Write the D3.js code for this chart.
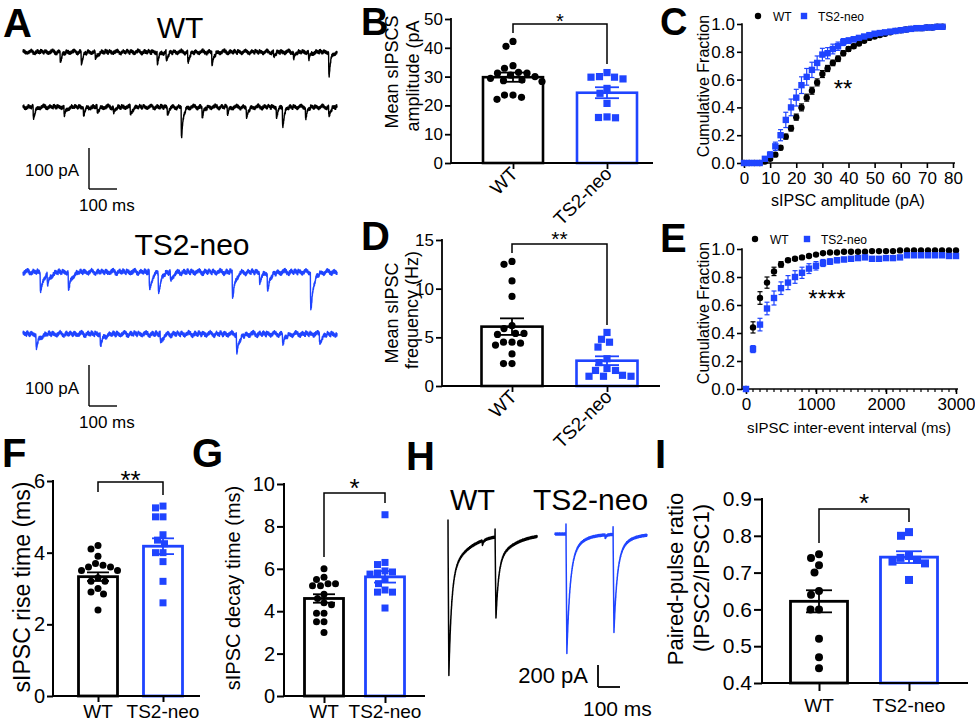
<!DOCTYPE html>
<html><head><meta charset="utf-8"><title>sIPSC figure</title>
<script src="https://cdn.jsdelivr.net/npm/d3@7/dist/d3.min.js"></script>
<style>html,body{margin:0;padding:0;background:#fff;}svg{display:block;}text{font-family:'Liberation Sans',Arial,Helvetica,sans-serif;}</style>
</head><body>
<svg id="fig" width="975" height="722" viewBox="0 0 975 722"></svg>
<script>
// ================= DATA =================
const groups = ["WT", "TS2-neo"];

// A: spontaneous traces, events as [time (ms), amplitude (pA)]
const aWT1 = [[132,24],[207,29],[257,20],[478,29],[510,22],[587,27],[673,34],[893,12],[964,15],[1018,20],[1090,58]];
const aWT2 = [[36,29],[146,24],[215,20],[264,15],[322,15],[382,20],[514,17],[564,73],[638,24],[728,15],[796,29],[903,24],[925,44],[1007,27],[1090,24]];
const aTS1 = [[61,49],[86,29],[161,44],[450,41],[482,44],[525,20],[746,59],[843,24],[871,41],[1025,90]];
const aTS2 = [[46,34],[275,27],[489,20],[761,44],[925,22],[1057,20]];
const noiseA = [0.8,-1.2,2.1,-0.5,1.6,-2.0,0.3,1.9,-1.4,0.6,-2.2,1.1,-0.2,2.3,-1.7,0.4,1.3,-0.9,-2.1,1.7,0.1,-1.3,2.0,-0.6,0.9,-1.8,1.5,-0.3,2.2,-1.1,0.5];
const noiseB = [1.5,0.5,-1.0,-2.0,-0.5,1.0,2.5,1.0,-1.5,-2.5,-0.5,1.5,0.0,-1.0,2.0,0.5,-1.5];

// B: mean sIPSC amplitude (pA)
const bWT  = [42.2,40.5,33.8,32.9,31.2,31.5,30.5,30.0,31.2,28.3,28.8,28.6,29.4,22.1,23.6,22.8,23.6];
const bTS2 = [30.0,29.8,31.4,29.2,29.8,24.2,25.9,20.7,15.7,16.0,15.8];
const bMean = [29.8, 24.4];
const bSem  = [1.6, 1.9];

// C: cumulative amplitude distribution
const cAmp = [0,2,4,6,8,10,12,14,16,18,20,22,24,26,28,30,32,34,36,38,40,42,44,46,48,50,52,54,56,58,60,62,64,66,68,70,72,74,76];
const cWT  = [0,0,0,0,0.01,0.03,0.06,0.11,0.19,0.25,0.33,0.40,0.47,0.52,0.58,0.64,0.68,0.72,0.75,0.79,0.82,0.84,0.86,0.88,0.90,0.91,0.92,0.93,0.94,0.95,0.955,0.96,0.965,0.97,0.97,0.975,0.975,0.98,0.98];
const cWTsem = [0,0,0,0,0.005,0.01,0.012,0.015,0.018,0.02,0.022,0.025,0.025,0.025,0.025,0.025,0.022,0.02,0.02,0.018,0.016,0.015,0.013,0.012,0.01,0.01,0.01,0.008,0.008,0.007,0.007,0.006,0.006,0.005,0.005,0.005,0.005,0.004,0.004];
const cTS2 = [0,0,0,0,0.03,0.06,0.12,0.20,0.31,0.40,0.47,0.56,0.62,0.67,0.72,0.78,0.79,0.82,0.84,0.87,0.88,0.89,0.90,0.91,0.92,0.93,0.935,0.94,0.945,0.95,0.955,0.96,0.965,0.97,0.97,0.975,0.975,0.98,0.98];
const cTS2sem = [0,0,0,0,0.01,0.02,0.03,0.04,0.055,0.06,0.06,0.06,0.06,0.055,0.05,0.045,0.04,0.035,0.03,0.025,0.02,0.018,0.016,0.014,0.012,0.011,0.01,0.009,0.008,0.008,0.007,0.007,0.006,0.006,0.005,0.005,0.005,0.004,0.004];

// D: mean sIPSC frequency (Hz)
const dWT  = [12.5,12.8,10.8,9.2,5.9,6.2,5.4,5.4,5.3,4.5,4.5,4.4,4.2,3.3,2.3,2.3];
const dTS2 = [5.5,4.8,4.5,4.0,2.8,2.4,1.6,1.6,1.8,1.0,1.0,1.0,1.1];
const dMean = [6.1, 2.6];
const dSem  = [0.85, 0.45];

// E: cumulative inter-event interval distribution
const eInt = [0,100,200,300,400,500,600,700,800,900,1000,1100,1200,1300,1400,1500,1600,1700,1800,1900,2000,2100,2200,2300,2400,2500,2600,2700,2800,2900,3000];
const eWT  = [0,0.44,0.65,0.76,0.84,0.89,0.92,0.93,0.94,0.95,0.96,0.97,0.975,0.975,0.98,0.98,0.98,0.98,0.985,0.985,0.985,0.985,0.99,0.99,0.99,0.99,0.99,0.99,0.99,0.99,0.99];
const eWTsem = [0,0.04,0.045,0.04,0.03,0.02,0.012,0.01,0.01,0.008,0.008,0.007,0.006,0.006,0.005,0.005,0.005,0.005,0.004,0.004,0.004,0.004,0.004,0.004,0.004,0.004,0.004,0.004,0.004,0.004,0.004];
const eTS2 = [0,0.285,0.46,0.575,0.65,0.72,0.76,0.80,0.83,0.86,0.88,0.90,0.91,0.92,0.925,0.93,0.935,0.94,0.93,0.93,0.935,0.935,0.94,0.955,0.955,0.955,0.955,0.955,0.955,0.95,0.95];
const eTS2sem = [0,0.025,0.045,0.045,0.05,0.045,0.05,0.045,0.04,0.035,0.03,0.025,0.02,0.018,0.015,0.013,0.012,0.01,0.01,0.01,0.009,0.009,0.008,0.008,0.008,0.007,0.007,0.007,0.007,0.007,0.007];

// F: rise time (ms)
const fWT  = [4.2,4.1,3.7,3.9,3.6,3.65,3.6,3.5,3.5,3.3,3.2,3.2,3.0,2.9,2.85,2.4];
const fTS2 = [5.25,5.3,5.0,5.0,4.5,4.35,4.25,4.0,4.0,3.75,3.2,2.6];
const fMean = [3.33, 4.18];
const fSem  = [0.12, 0.22];

// G: decay time (ms)
const gWT  = [6.0,5.6,5.5,5.3,5.3,5.2,5.2,4.8,4.6,4.4,4.3,3.9,3.9,3.5,3.5,3.0];
const gTS2 = [8.55,6.3,6.2,5.75,5.8,5.85,5.9,5.3,5.5,4.9,4.9,5.0,4.15];
const gMean = [4.6, 5.62];
const gSem  = [0.2, 0.27];

// H: evoked paired-pulse traces (ms, pA)
const hWT  = {stims:[0,214],  amps:[1290,745], artifacts:[118,80], minis:[[155,36]]};
const hTS2 = {stims:[50,264], amps:[1082,890], artifacts:[82,64],  minis:[[227,27]]};
const hNoise = [4,-6,9,-3,7,-9,2,8,-5,3,-8,6,-1,10,-7,1,5,-4,-9,7,0,-5,8];

// I: paired-pulse ratio
const iWT  = [0.75,0.74,0.72,0.70,0.65,0.64,0.60,0.60,0.52,0.47,0.44];
const iTS2 = [0.81,0.80,0.745,0.74,0.735,0.73,0.725,0.68];
const iMean = [0.622, 0.742];
const iSem  = [0.03, 0.016];

// ================= DRAWING =================
const svg = d3.select("#fig");
const BLUE = "#1f44ff";
const COL = ["#000000", BLUE];

function T(x, y, s, size, o = {}) {
  const t = svg.append("text").attr("x", x).attr("y", y).text(s)
    .attr("font-size", size).attr("text-anchor", o.anchor || "start")
    .attr("font-weight", o.bold ? "bold" : "normal").attr("fill", o.fill || "#000");
  if (o.rotate != null) t.attr("transform", `rotate(${o.rotate},${x},${y})`);
  return t;
}
function L(x1, y1, x2, y2, col, w) {
  return svg.append("line").attr("x1", x1).attr("y1", y1).attr("x2", x2).attr("y2", y2)
    .attr("stroke", col || "#000").attr("stroke-width", w || 1.5);
}

// panel letters
[["A",3,37,40],["B",361,35,38],["C",660,35,38],["D",361,250,40],["E",660,252,40],["F",2,467,40],["G",192,467,40],["H",406,470,40],["I",655,468,40]]
  .forEach(([s,x,y,f]) => T(x, y, s, f, {bold: true}));

// ---------- A ----------
function evShape(dt, tau) { return (1 - Math.exp(-dt / 0.8)) * Math.exp(-dt / tau); }
function evNorm(tau) { let m = 0; for (let d = 0; d < 40; d += 0.05) m = Math.max(m, evShape(d, tau)); return m; }
function spontTrace(events, tau, phase, dur, gain) {
  const n = evNorm(tau), pts = [];
  for (let i = 0; i <= dur * 2; i++) {
    const t = i / 2;
    let v = gain * (noiseA[(i + phase) % noiseA.length] + noiseB[(Math.floor(i / 9) + phase) % noiseB.length]);
    events.forEach(([t0, a]) => { const dt = t - t0; if (dt >= 0) v -= a * evShape(dt, tau) / n; });
    pts.push([t, v]);
  }
  return pts;
}
(function () {
  const x = d3.scaleLinear().domain([0, 1120]).range([23, 337]);
  const specs = [[aWT1, 52, COL[0], 6, 0, 1.5], [aWT2, 107, COL[0], 6, 7, 1.5], [aTS1, 272, COL[1], 10, 3, 1.8], [aTS2, 334, COL[1], 10, 11, 1.8]];
  specs.forEach(([ev, base, col, tau, ph, gain]) => {
    const y = d3.scaleLinear().domain([0, -100]).range([base, base + 41]);
    svg.append("path").datum(spontTrace(ev, tau, ph, 1120, gain))
      .attr("d", d3.line().x(d => x(d[0])).y(d => y(d[1])))
      .attr("fill", "none").attr("stroke", col).attr("stroke-width", 1.4).attr("stroke-linejoin", "round");
  });
  // scale bars: 100 pA, 100 ms
  const sx = d3.scaleLinear().domain([0, 100]).range([0, x(100) - x(0)]);
  const sy = d3.scaleLinear().domain([0, 100]).range([0, 41]);
  [[189, 176, 211], [406, 394, 428]].forEach(([yb, ty1, ty2]) => {
    L(89, yb - sy(100), 89, yb, "#000", 1.4);
    L(89, yb, 89 + sx(100), yb, "#000", 1.4);
    T(79, ty1, "100 pA", 17, {anchor: "end"});
    T(79, ty2, "100 ms", 17);
  });
  T(180, 38, "WT", 30, {anchor: "middle"});
  T(192, 255, "TS2-neo", 30, {anchor: "middle"});
})();

// ---------- bar panels ----------
function swarm(pys, minD) {
  const idx = pys.map((p, i) => i).sort((a, b) => pys[a] - pys[b]);
  const placed = [], out = new Array(pys.length);
  idx.forEach(i => {
    const py = pys[i];
    for (let k = 0; k < 400; k++) {
      const dx = (k % 2 === 0 ? 1 : -1) * Math.ceil(k / 2) * 0.5;
      if (placed.every(([qx, qy]) => (qx - dx) ** 2 + (qy - py) ** 2 >= minD * minD)) {
        placed.push([dx, py]); out[i] = dx; break;
      }
    }
  });
  return out;
}
function barPanel(o) {
  const g = svg.append("g");
  const y = d3.scaleLinear().domain(o.yDomain).range([o.yBottom, o.yTop]);
  const x = d3.scalePoint().domain(groups).range([o.c0, o.c1]);
  // bars
  g.selectAll("rect.bar").data(groups).join("rect").attr("class", "bar")
    .attr("x", d => x(d) - o.bw / 2).attr("y", (d, i) => y(o.means[i]))
    .attr("width", o.bw).attr("height", (d, i) => o.yBottom - y(o.means[i]))
    .attr("fill", "#fff").attr("stroke", (d, i) => COL[i]).attr("stroke-width", o.sw);
  // points
  o.pts.forEach((vals, i) => {
    const pys = vals.map(v => y(v));
    const dxs = swarm(pys, o.minD);
    pys.forEach((py, j) => {
      const cx = x(groups[i]) + dxs[j];
      if (i === 0) g.append("circle").attr("cx", cx).attr("cy", py).attr("r", o.r).attr("fill", "#000");
      else g.append("rect").attr("x", cx - o.r).attr("y", py - o.r).attr("width", 2 * o.r).attr("height", 2 * o.r).attr("fill", BLUE);
    });
  });
  // error bars
  groups.forEach((d, i) => {
    const cx = x(d), y1 = y(o.means[i] - o.sems[i]), y2 = y(o.means[i] + o.sems[i]);
    [[cx, y1, cx, y2], [cx - o.cap / 2, y1, cx + o.cap / 2, y1], [cx - o.cap / 2, y2, cx + o.cap / 2, y2]]
      .forEach(c => g.append("line").attr("x1", c[0]).attr("y1", c[1]).attr("x2", c[2]).attr("y2", c[3])
        .attr("stroke", COL[i]).attr("stroke-width", o.ew));
  });
  // y axis
  const ya = d3.axisLeft(y).tickValues(o.ticks).tickSize(o.tick).tickPadding(o.pad).tickFormat(o.fmt || (d => d));
  const yg = g.append("g").attr("transform", `translate(${o.axisX},0)`).call(ya);
  yg.select(".domain").remove();
  yg.selectAll("line").attr("stroke", "#000").attr("stroke-width", o.aw);
  yg.selectAll("text").attr("font-size", o.tf).attr("fill", "#000");
  g.append("line").attr("x1", o.axisX).attr("x2", o.axisX).attr("y1", o.yBottom + o.aw / 2).attr("y2", o.yTop - o.aw / 2)
    .attr("stroke", "#000").attr("stroke-width", o.aw);
  // x axis
  g.append("line").attr("x1", o.axisX).attr("x2", o.xEnd).attr("y1", o.yBottom).attr("y2", o.yBottom)
    .attr("stroke", "#000").attr("stroke-width", o.aw);
  const xa = d3.axisBottom(x).tickSize(o.tick).tickSizeOuter(0).tickFormat("");
  const xg = g.append("g").attr("transform", `translate(0,${o.yBottom})`).call(xa);
  xg.select(".domain").remove();
  xg.selectAll("line").attr("stroke", "#000").attr("stroke-width", o.aw);
  groups.forEach(d => {
    if (o.rotLabels) T(x(d) + o.rotDx, o.yBottom + o.rotDy, d, o.lf, {anchor: "end", rotate: -45});
    else T(x(d), o.labY, d, o.lf, {anchor: "middle"});
  });
  // y label
  o.ylab.forEach((s, k) => T(o.ylabX[k], o.ylabY[k], s, o.ylf, {anchor: "middle", rotate: -90}));
  // significance bracket
  const xl = x(groups[0]), xr = x(groups[1]);
  g.append("path").attr("d", `M${xl},${o.br[0]}V${o.br[1]}H${xr}V${o.br[2]}`)
    .attr("fill", "none").attr("stroke", "#000").attr("stroke-width", 1.5);
  T((xl + xr) / 2, o.starY, o.star, o.starF, {anchor: "middle"});
}

barPanel({yDomain:[0,50], yBottom:163, yTop:19, axisX:451, xEnd:653, c0:513, c1:607, bw:60, sw:2.6, aw:1.8,
  ticks:[0,10,20,30,40,50], tick:6, pad:2, tf:17, rotLabels:true, rotDx:6, rotDy:12, lf:19,
  ylab:["Mean sIPSCS","amplitude (pA"], ylabX:[398,419], ylabY:[72,76], ylf:18,
  means:bMean, sems:bSem, pts:[bWT,bTS2], r:3.6, minD:8.5, cap:24, ew:1.8,
  br:[33,24,64], star:"*", starY:28, starF:20});

barPanel({yDomain:[0,15], yBottom:386, yTop:240, axisX:442, xEnd:660, c0:512, c1:607, bw:61, sw:2.6, aw:1.8,
  ticks:[0,5,10,15], tick:6, pad:2, tf:17, rotLabels:true, rotDx:6, rotDy:12, lf:19,
  ylab:["Mean sIPSC","frequency  (Hz)"], ylabX:[398,418], ylabY:[313,310], ylf:18,
  means:dMean, sems:dSem, pts:[dWT,dTS2], r:3.6, minD:8.5, cap:24, ew:1.8,
  br:[253,244,325], star:"**", starY:246, starF:21});

barPanel({yDomain:[0,6], yBottom:696, yTop:481, axisX:53, xEnd:200, c0:98, c1:163, bw:39, sw:2.8, aw:2,
  ticks:[0,2,4,6], tick:6, pad:2, tf:20, rotLabels:false, labY:718, lf:19,
  ylab:["sIPSC rise time (ms)"], ylabX:[30], ylabY:[587], ylf:23,
  means:fMean, sems:fSem, pts:[fWT,fTS2], r:3.5, minD:7.5, cap:22, ew:1.8,
  br:[492,482,495], star:"**", starY:489, starF:26});

barPanel({yDomain:[0,10], yBottom:696, yTop:484, axisX:284, xEnd:425, c0:324, c1:385, bw:39, sw:2.8, aw:2,
  ticks:[0,2,4,6,8,10], tick:7, pad:2, tf:20, rotLabels:false, labY:718, lf:19,
  ylab:["sIPSC decay time (ms)"], ylabX:[240], ylabY:[588], ylf:20,
  means:gMean, sems:gSem, pts:[gWT,gTS2], r:3.5, minD:7.5, cap:22, ew:1.8,
  br:[557,493,503], star:"*", starY:497, starF:26});

barPanel({yDomain:[0.4,0.9], yBottom:683, yTop:499, axisX:762, xEnd:968, c0:819, c1:909, bw:57, sw:2.8, aw:2,
  ticks:[0.4,0.5,0.6,0.7,0.8,0.9], fmt:d3.format(".1f"), tick:8, pad:2, tf:21, rotLabels:false, labY:712, lf:19,
  ylab:["Paired-pulse ratio","(IPSC2/IPSC1)"], ylabX:[683,709], ylabY:[579,578], ylf:22,
  means:iMean, sems:iSem, pts:[iWT,iTS2], r:4, minD:8.5, cap:26, ew:1.8,
  br:[543,509,522], star:"*", starY:512, starF:26});

// ---------- cumulative panels ----------
function cdfPanel(o) {
  const g = svg.append("g");
  const x = d3.scaleLinear().domain(o.xDomain).range([o.x0, o.x1]);
  const y = d3.scaleLinear().domain([0, 1]).range([o.yBottom, o.yTop]);
  // axes
  const ya = d3.axisLeft(y).tickValues([0, 0.2, 0.4, 0.6, 0.8, 1.0]).tickFormat(d3.format(".1f")).tickSize(5).tickPadding(2);
  const yg = g.append("g").attr("transform", `translate(${o.axisX},0)`).call(ya);
  yg.select(".domain").remove();
  yg.selectAll("line").attr("stroke", "#000").attr("stroke-width", 1.6);
  yg.selectAll("text").attr("font-size", 17).attr("fill", "#000");
  const xa = d3.axisBottom(x).tickValues(o.xTicks).tickSize(5).tickPadding(4).tickFormat(d => d);
  const xg = g.append("g").attr("transform", `translate(0,${o.yBottom})`).call(xa);
  xg.select(".domain").remove();
  xg.selectAll("line").attr("stroke", "#000").attr("stroke-width", 1.6);
  xg.selectAll("text").attr("font-size", 17).attr("fill", "#000");
  if (o.minor) o.minor.forEach(v => g.append("line").attr("x1", x(v)).attr("x2", x(v)).attr("y1", o.yBottom).attr("y2", o.yBottom + 3)
    .attr("stroke", "#000").attr("stroke-width", 1.2));
  g.append("line").attr("x1", o.axisX).attr("x2", o.axisX).attr("y1", o.yBottom + 0.8).attr("y2", o.yTop - 0.8).attr("stroke", "#000").attr("stroke-width", 1.6);
  g.append("line").attr("x1", o.axisX).attr("x2", o.xEndLine).attr("y1", o.yBottom).attr("y2", o.yBottom).attr("stroke", "#000").attr("stroke-width", 1.6);
  // series
  [[o.wt, o.wtSem, 0], [o.ts, o.tsSem, 1]].forEach(([m, s, k]) => {
    o.xs.forEach((xv, i) => {
      const cx = x(xv), y1 = y(m[i] - s[i]), y2 = y(m[i] + s[i]);
      if (s[i] > 0) {
        g.append("line").attr("x1", cx).attr("x2", cx).attr("y1", y1).attr("y2", y2).attr("stroke", COL[k]).attr("stroke-width", 1.2);
        [y1, y2].forEach(yy => g.append("line").attr("x1", cx - 2.5).attr("x2", cx + 2.5).attr("y1", yy).attr("y2", yy).attr("stroke", COL[k]).attr("stroke-width", 1.2));
      }
    });
    o.xs.forEach((xv, i) => {
      if (k === 0) g.append("circle").attr("cx", x(xv)).attr("cy", y(m[i])).attr("r", 3.2).attr("fill", "#000");
      else g.append("rect").attr("x", x(xv) - 3.2).attr("y", y(m[i]) - 3.2).attr("width", 6.4).attr("height", 6.4).attr("fill", BLUE);
    });
  });
  // labels
  T(o.xlabX, o.xlabY, o.xlab, o.xlf, {anchor: "middle"});
  T(709, o.ylabY, "Cumulative Fraction", 16, {anchor: "middle", rotate: -90});
  // legend
  g.append("circle").attr("cx", o.leg[0]).attr("cy", o.leg[1]).attr("r", 3.2).attr("fill", "#000");
  T(o.leg[0] + 15, o.leg[1] + 4.5, "WT", 12);
  g.append("rect").attr("x", o.leg[2] - 3.2).attr("y", o.leg[1] - 3.2).attr("width", 6.4).attr("height", 6.4).attr("fill", BLUE);
  T(o.leg[2] + 14, o.leg[1] + 4.5, "TS2-neo", 12);
  T(o.starX, o.starY, o.star, 24, {anchor: "middle"});
}

cdfPanel({xDomain:[0,80], x0:744, x1:953, yBottom:163, yTop:24, axisX:742, xEndLine:955,
  xTicks:[0,10,20,30,40,50,60,70,80], xs:cAmp, wt:cWT, wtSem:cWTsem, ts:cTS2, tsSem:cTS2sem,
  xlab:"sIPSC amplitude (pA)", xlabX:848, xlabY:206, xlf:16, ylabY:86,
  leg:[758,16,804], star:"**", starX:843, starY:97});

cdfPanel({xDomain:[0,3000], x0:746, x1:956, yBottom:389, yTop:249, axisX:742, xEndLine:958,
  xTicks:[0,1000,2000,3000], minor:eInt, xs:eInt, wt:eWT, wtSem:eWTsem, ts:eTS2, tsSem:eTS2sem,
  xlab:"sIPSC inter-event interval (ms)", xlabX:849, xlabY:433, xlf:15, ylabY:313,
  leg:[755,239,807], star:"****", starX:827, starY:307});

// ---------- H ----------
function ipsc(dt, ff, tf, ts) {
  const tp = 4;
  if (dt < tp) return dt / tp;
  const u = dt - tp;
  return ff * Math.exp(-u / tf) + (1 - ff) * Math.exp(-u / ts);
}
function evoked(p, dur, ff, tf, ts, ph) {
  const n = evNorm(5), pts = [];
  for (let i = 0; i <= dur * 2; i++) {
    const t = i / 2;
    let v = hNoise[(i + ph) % hNoise.length];
    p.stims.forEach((s, k) => {
      const dt = t - s;
      if (dt >= 0 && dt < 0.5) v += p.artifacts[k];
      if (dt > 0) v -= p.amps[k] * ipsc(dt, ff, tf, ts);
    });
    p.minis.forEach(([s, a]) => { const dt = t - s; if (dt >= 0) v -= a * evShape(dt, 5) / n; });
    pts.push([t, v]);
  }
  return pts;
}
(function () {
  const specs = [[hWT, 405, 448, 533, COL[0], 0.7, 12, 89, 0], [hTS2, 418, 555, 534, COL[1], 0.75, 14, 50, 5]];
  specs.forEach(([p, dur, x0, base, col, ff, tf, ts, ph]) => {
    const x = d3.scaleLinear().domain([0, 100]).range([x0, x0 + 22]);
    const y = d3.scaleLinear().domain([0, -200]).range([base, base + 22]);
    svg.append("path").datum(evoked(p, dur, ff, tf, ts, ph))
      .attr("d", d3.line().x(d => x(d[0])).y(d => y(d[1])))
      .attr("fill", "none").attr("stroke", col).attr("stroke-width", 1.5).attr("stroke-linejoin", "round");
  });
  const sx = d3.scaleLinear().domain([0, 100]).range([0, 22]);
  const sy = d3.scaleLinear().domain([0, 200]).range([0, 22]);
  L(598, 687 - sy(200), 598, 687, "#000", 1.8);
  L(598, 687, 598 + sx(100), 687, "#000", 1.8);
  T(588, 683, "200 pA", 22, {anchor: "end"});
  T(583, 716, "100 ms", 21);
  T(450, 510, "WT", 29);
  T(533, 510, "TS2-neo", 30);
})();
</script>
</body></html>
